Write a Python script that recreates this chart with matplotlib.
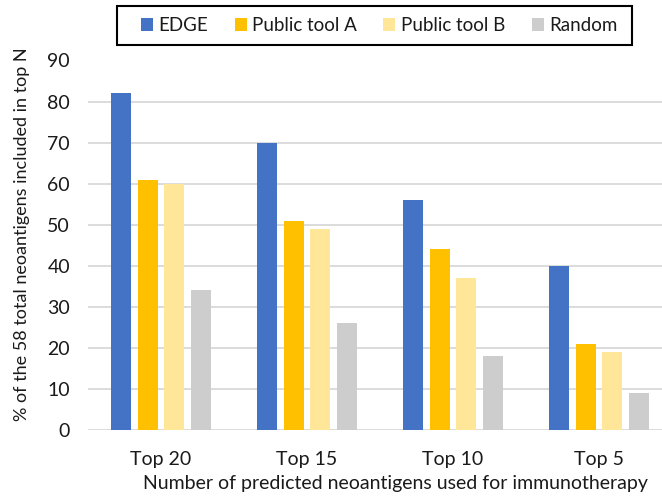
import matplotlib
matplotlib.use('Agg')
import matplotlib.pyplot as plt
from matplotlib.patches import Rectangle
import numpy as np

# Data
groups = ['Top 20', 'Top 15', 'Top 10', 'Top 5']
series_names = ['EDGE', 'Public tool A', 'Public tool B', 'Random']
edge = [82, 70, 56, 40]
tool_a = [61, 51, 44, 21]
tool_b = [60, 49, 37, 19]
random_pick = [34, 26, 18, 9]
colors = ['#4472C4', '#FFC000', '#FFE699', '#CDCDCD']

plt.rcParams['font.family'] = ['Lato', 'DejaVu Sans']

W, H = 662, 504
fig = plt.figure(figsize=(W / 100, H / 100), dpi=100)

# plot area in pixels (the right edge runs past the image, as in the original)
left, right, top, bottom = 88, 88 + 4 * 146, 60.5, 430
ax = fig.add_axes([left / W, 1 - bottom / H, (right - left) / W, (bottom - top) / H])

x = np.arange(len(groups)) + 0.5
pitch = 0.183
width = 0.137
all_series = [edge, tool_a, tool_b, random_pick]
for i, (vals, name, c) in enumerate(zip(all_series, series_names, colors)):
    ax.bar(x + (i - 1.5) * pitch, vals, width, color=c, label=name, zorder=3)

ax.set_xlim(0, 4)
ax.set_ylim(0, 90)
ax.set_yticks(range(0, 91, 10))
ax.set_xticks(x)
ax.set_xticklabels(groups)
ax.yaxis.grid(True, color='#D9D9D9', linewidth=1.3, zorder=0)
ax.set_axisbelow(True)
for s in ax.spines.values():
    s.set_visible(False)
ax.tick_params(axis='both', length=0, labelsize=14, colors='#1a1a1a')
ax.tick_params(axis='y', pad=13)
ax.tick_params(axis='x', pad=15)

fig.text(22 / W, 1 - 234 / H, '% of the 58 total neoantigens included in top N',
         rotation=90, ha='center', va='center', fontsize=13, color='#1a1a1a')
fig.text(395 / W, 1 - 484 / H, 'Number of predicted neoantigens used for immunotherapy',
         ha='center', va='center', fontsize=14, color='#1a1a1a')

# legend frame drawn separately so the padding can be uneven like the original
fig.patches.append(Rectangle((117 / W, 1 - 45 / H), 515 / W, 39 / H,
                             transform=fig.transFigure, facecolor='white',
                             edgecolor='black', linewidth=1.5))
leg = fig.legend(loc='center left', bbox_to_anchor=(141 / W, 1 - 25.5 / H), ncol=4,
                 fontsize=13.5, frameon=False, borderpad=0, borderaxespad=0,
                 handlelength=0.64, handleheight=0.64, handletextpad=0.3,
                 columnspacing=1.4, labelcolor='#1a1a1a')

fig.savefig('out.png', dpi=100)
